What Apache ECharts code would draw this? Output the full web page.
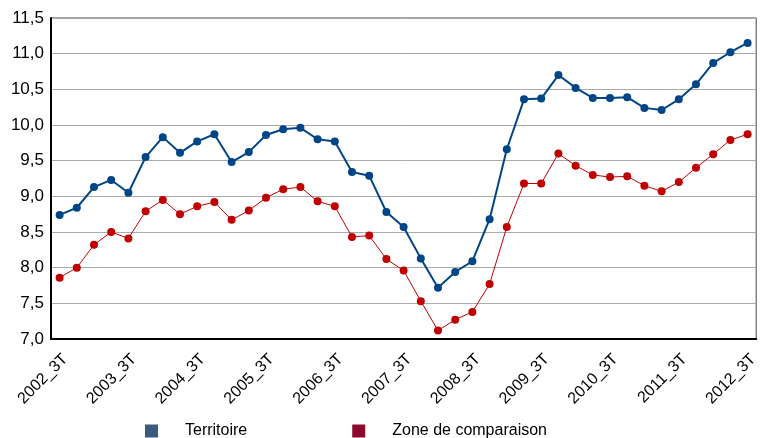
<!DOCTYPE html>
<html>
<head>
<meta charset="utf-8">
<script src="https://cdn.jsdelivr.net/npm/echarts@6/dist/echarts.min.js"></script>
<style>
  html, body { margin: 0; padding: 0; background: #fff; }
  #chart { width: 761px; height: 438px; }
</style>
</head>
<body>
<div id="chart"></div>
<script>
// quarters 2002_3T .. 2012_3T
const quarters = ['3T', '4T', '1T', '2T']

const territoire = [
  8.74, 8.84, 9.13, 9.23, 9.05, 9.55, 9.83, 9.61, 9.77, 9.87,
  9.48, 9.62, 9.86, 9.94, 9.96, 9.80, 9.77, 9.34, 9.29, 8.78,
  8.57, 8.13, 7.72, 7.94, 8.09, 8.68, 9.66, 10.36, 10.37, 10.70,
  10.52, 10.38, 10.38, 10.39, 10.24, 10.21, 10.36, 10.57, 10.87, 11.02,
  11.15
]

const zoneComparaison = [
  7.86, 8.00, 8.32, 8.50, 8.41, 8.79, 8.95, 8.75, 8.86, 8.92,
  8.67, 8.80, 8.98, 9.10, 9.13, 8.93, 8.86, 8.43, 8.45, 8.12,
  7.96, 7.53, 7.12, 7.27, 7.38, 7.77, 8.57, 9.18, 9.18, 9.60,
  9.43, 9.30, 9.27, 9.28, 9.15, 9.07, 9.20, 9.40, 9.59, 9.79,
  9.87
]

const categories = []
for (let i = 0; i < territoire.length; i++) {
  const y = 2002 + Math.floor((i + 2) / 4)
  categories.push(y + '_' + quarters[i % 4])
}

const chart = echarts.init(document.getElementById('chart'))

const option = {
  animation: false,
  textStyle: { fontFamily: 'Liberation Sans, Arial, sans-serif' },
  grid: {
    left: 51,
    right: 2,
    top: 18,
    bottom: 99,
    show: true,
    borderColor: '#444',
    borderWidth: 1
  },
  legend: {
    bottom: -6,
    left: 140,
    itemWidth: 13,
    itemHeight: 13,
    itemGap: 105,
    icon: 'rect',
    textStyle: { fontSize: 16, color: '#000', padding: [0, 0, 0, 22] },
    data: [
      { name: 'Territoire', itemStyle: { color: '#3b5b7c' } },
      { name: 'Zone de comparaison', itemStyle: { color: '#8b0a2e' } }
    ]
  },
  xAxis: {
    type: 'category',
    data: categories,
    boundaryGap: true,
    axisLine: { lineStyle: { color: '#000', width: 2 } },
    axisTick: { interval: 0, inside: true, length: 4, lineStyle: { color: '#333' } },
    axisLabel: {
      interval: 3,
      rotate: 45,
      fontSize: 16,
      color: '#000',
      margin: 12,
      verticalAlign: 'top'
    }
  },
  yAxis: {
    type: 'value',
    min: 7,
    max: 11.5,
    interval: 0.5,
    axisLine: { show: true, lineStyle: { color: '#000', width: 2 } },
    axisTick: { show: false },
    splitLine: { lineStyle: { color: '#aaa', width: 1 } },
    axisLabel: {
      fontSize: 17,
      color: '#000',
      margin: 7,
      formatter: (v) => v.toFixed(1).replace('.', ',')
    }
  },
  series: [
    {
      name: 'Territoire',
      type: 'line',
      data: territoire,
      symbol: 'circle',
      symbolSize: 8,
      showAllSymbol: true,
      lineStyle: { width: 2, color: '#004586' },
      itemStyle: { color: '#004586' },
      z: 3
    },
    {
      name: 'Zone de comparaison',
      type: 'line',
      data: zoneComparaison,
      symbol: 'circle',
      symbolSize: 8,
      showAllSymbol: true,
      lineStyle: { width: 1, color: '#c00000' },
      itemStyle: { color: '#c00000' },
      z: 2
    }
  ]
}

chart.setOption(option)
window.addEventListener('resize', chart.resize)
</script>
</body>
</html>
